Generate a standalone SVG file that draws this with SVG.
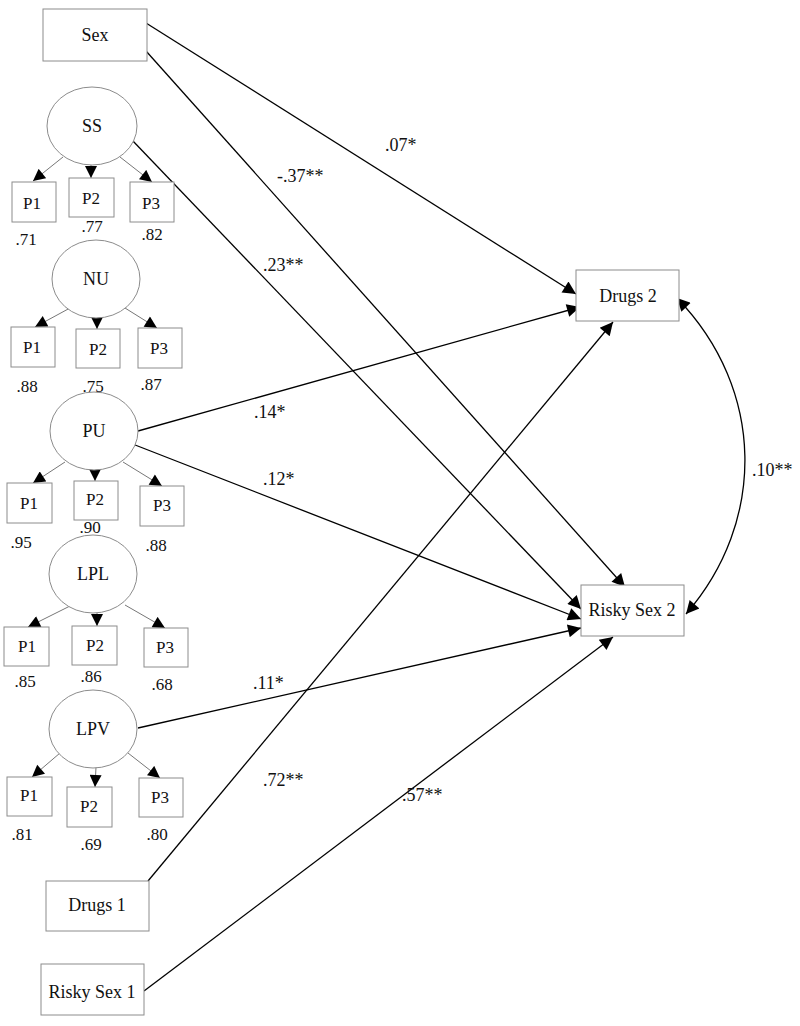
<svg xmlns="http://www.w3.org/2000/svg" width="800" height="1026" viewBox="0 0 800 1026">
<style>
.box{fill:#fff;stroke:#8c8c8c;stroke-width:1}
.lat{fill:#fff;stroke:#8c8c8c;stroke-width:1}
.t{font-family:"Liberation Serif","Times New Roman",serif;font-size:18px;fill:#111;text-anchor:middle}
.p{font-family:"Liberation Serif","Times New Roman",serif;font-size:17px;fill:#111;text-anchor:middle}
.lbl{font-family:"Liberation Serif","Times New Roman",serif;font-size:18px;fill:#111}
.path{stroke:#000;stroke-width:1.3;fill:none;marker-end:url(#ah)}
.ind{stroke:#777;stroke-width:1;fill:none;marker-end:url(#sh)}
</style>
<defs>
<marker id="ah" viewBox="0 0 10 10" refX="10" refY="5" markerUnits="userSpaceOnUse" markerWidth="17" markerHeight="13" orient="auto-start-reverse">
<path d="M0,0 L10,5 L0,10 z" fill="#000"/>
</marker>
<marker id="sh" viewBox="0 0 10 10" refX="10" refY="5" markerUnits="userSpaceOnUse" markerWidth="13" markerHeight="12" orient="auto">
<path d="M0,0 L10,5 L0,10 z" fill="#000"/>
</marker>
</defs>
<rect width="800" height="1026" fill="#fff"/>
<g id="connectors">
<line class="path" x1="146" y1="23" x2="576" y2="294"/>
<line class="path" x1="146" y1="51" x2="625" y2="587"/>
<line class="path" x1="132" y1="140" x2="581" y2="609"/>
<line class="path" x1="138" y1="431" x2="580" y2="307"/>
<line class="path" x1="130" y1="443" x2="581" y2="619"/>
<line class="path" x1="138" y1="728" x2="581" y2="628"/>
<line class="path" x1="148" y1="881" x2="613" y2="322"/>
<line class="path" x1="144" y1="991" x2="613" y2="637"/>
<path class="path" d="M677,298 C766,390 766,522 686,614" style="marker-start:url(#ah)"/>
<line class="ind" x1="63" y1="157" x2="33" y2="181"/>
<line class="ind" x1="91" y1="165" x2="91" y2="178"/>
<line class="ind" x1="120" y1="157" x2="152" y2="182"/>
<line class="ind" x1="70" y1="308" x2="35" y2="327"/>
<line class="ind" x1="97" y1="317" x2="97" y2="329"/>
<line class="ind" x1="125" y1="308" x2="157" y2="328"/>
<line class="ind" x1="65" y1="462" x2="33" y2="483"/>
<line class="ind" x1="95" y1="470" x2="95" y2="481"/>
<line class="ind" x1="123" y1="462" x2="162" y2="486"/>
<line class="ind" x1="70" y1="606" x2="28" y2="627"/>
<line class="ind" x1="97" y1="613" x2="97" y2="626"/>
<line class="ind" x1="125" y1="605" x2="165" y2="628"/>
<line class="ind" x1="60" y1="753" x2="32" y2="777"/>
<line class="ind" x1="96" y1="767" x2="95" y2="787"/>
<line class="ind" x1="128" y1="753" x2="160" y2="778"/>
<text class="lbl" x="385" y="151">.07*</text>
<text class="lbl" x="277" y="182">-.37**</text>
<text class="lbl" x="263" y="271">.23**</text>
<text class="lbl" x="254" y="418">.14*</text>
<text class="lbl" x="263" y="485">.12*</text>
<text class="lbl" x="253" y="689">.11*</text>
<text class="lbl" x="263" y="786">.72**</text>
<text class="lbl" x="402" y="801">.57**</text>
<text class="lbl" x="752" y="476">.10**</text>
</g>
<g id="sex"><rect class="box" x="43" y="9" width="104" height="52"/><text class="t" x="95" y="41">Sex</text></g>
<g id="ss">
<ellipse class="lat" cx="92" cy="126" rx="45" ry="39"/><text class="t" x="92" y="132">SS</text>
<rect class="box" x="12" y="182" width="44" height="40"/><text class="p" x="32" y="209">P1</text>
<rect class="box" x="69" y="178" width="45" height="39"/><text class="p" x="91" y="204">P2</text>
<rect class="box" x="130" y="182" width="44" height="40"/><text class="p" x="151" y="209">P3</text>
<text class="p" x="26" y="245">.71</text><text class="p" x="92" y="232">.77</text><text class="p" x="152" y="240">.82</text>
</g>
<g id="nu">
<ellipse class="lat" cx="96" cy="279" rx="44" ry="39"/><text class="t" x="96" y="285">NU</text>
<rect class="box" x="11" y="327" width="44" height="40"/><text class="p" x="32" y="353">P1</text>
<rect class="box" x="76" y="329" width="44" height="39"/><text class="p" x="98" y="355">P2</text>
<rect class="box" x="138" y="328" width="44" height="40"/><text class="p" x="159" y="354">P3</text>
<text class="p" x="27" y="392">.88</text><text class="p" x="93" y="392">.75</text><text class="p" x="151" y="390">.87</text>
</g>
<g id="pu">
<ellipse class="lat" cx="94" cy="431" rx="44" ry="39"/><text class="t" x="94" y="437">PU</text>
<rect class="box" x="7" y="483" width="45" height="40"/><text class="p" x="29" y="509">P1</text>
<rect class="box" x="74" y="481" width="44" height="39"/><text class="p" x="95" y="505">P2</text>
<rect class="box" x="140" y="486" width="44" height="40"/><text class="p" x="162" y="511">P3</text>
<text class="p" x="21" y="548">.95</text><text class="p" x="90" y="533">.90</text><text class="p" x="156" y="551">.88</text>
</g>
<g id="lpl">
<ellipse class="lat" cx="93" cy="574" rx="44" ry="39"/><text class="t" x="93" y="580">LPL</text>
<rect class="box" x="4" y="627" width="45" height="39"/><text class="p" x="27" y="652">P1</text>
<rect class="box" x="72" y="626" width="45" height="39"/><text class="p" x="95" y="651">P2</text>
<rect class="box" x="144" y="628" width="44" height="39"/><text class="p" x="165" y="653">P3</text>
<text class="p" x="25" y="687">.85</text><text class="p" x="91" y="682">.86</text><text class="p" x="162" y="690">.68</text>
</g>
<g id="lpv">
<ellipse class="lat" cx="93" cy="729" rx="44" ry="39"/><text class="t" x="93" y="735">LPV</text>
<rect class="box" x="7" y="777" width="45" height="39"/><text class="p" x="29" y="801">P1</text>
<rect class="box" x="67" y="787" width="45" height="40"/><text class="p" x="89" y="812">P2</text>
<rect class="box" x="139" y="778" width="44" height="39"/><text class="p" x="160" y="803">P3</text>
<text class="p" x="22" y="840">.81</text><text class="p" x="91" y="850">.69</text><text class="p" x="157" y="840">.80</text>
</g>
<g id="drugs1"><rect class="box" x="46" y="881" width="103" height="50"/><text class="t" x="97" y="911">Drugs 1</text></g>
<g id="riskysex1"><rect class="box" x="41" y="964" width="103" height="51"/><text class="t" x="92" y="998">Risky Sex 1</text></g>
<g id="drugs2"><rect class="box" x="576" y="270" width="103" height="51"/><text class="t" x="628" y="302">Drugs 2</text></g>
<g id="riskysex2"><rect class="box" x="581" y="585" width="103" height="51"/><text class="t" x="632" y="616">Risky Sex 2</text></g>
</svg>
